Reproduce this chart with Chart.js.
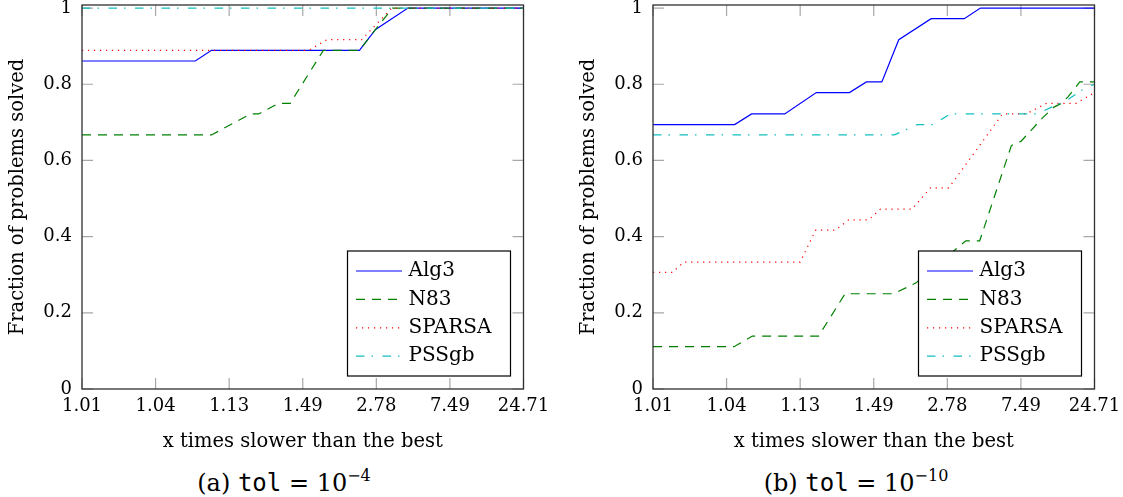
<!DOCTYPE html>
<html>
<head>
<meta charset="utf-8">
<script src="https://cdn.jsdelivr.net/npm/chart.js@4.4.1/dist/chart.umd.min.js"></script>
<style>
  html, body { margin: 0; padding: 0; background: #fff; }
  body { width: 1123px; height: 497px; position: relative; overflow: hidden; font-family: "DejaVu Serif", "Liberation Serif", serif; }
  canvas { position: absolute; top: 0; }
  #chartA { left: 0; }
  #chartB { left: 571px; }
  .caption { position: absolute; top: 470px; font-size: 24px; line-height: 26px; color: #000; white-space: nowrap; transform: translateX(-50%); }
  .caption .tt { font-family: "DejaVu Sans Mono", "Liberation Mono", monospace; }
  .caption sup { font-size: 16px; vertical-align: 0; position: relative; top: -10px; }
</style>
</head>
<body>
<canvas id="chartA" width="552" height="460"></canvas>
<canvas id="chartB" width="552" height="460"></canvas>
<div class="caption" style="left:284px">(a) <span class="tt">tol</span> = 10<sup>−4</sup></div>
<div class="caption" style="left:856px">(b) <span class="tt">tol</span> = 10<sup>−10</sup></div>
<script>
// x positions are tick indices: 0 -> 1.01, 1 -> 1.04, ... 6 -> 24.71
const xTickLabels = ['1.01', '1.04', '1.13', '1.49', '2.78', '7.49', '24.71'];
const yTickValues = [0, 0.2, 0.4, 0.6, 0.8, 1];
const solverNames = ['Alg3', 'N83', 'SPARSA', 'PSSgb'];

// tol = 1e-4
const alg3A = [[0, 0.861], [1.54, 0.861], [1.76, 0.889], [3.77, 0.889], [3.99, 0.944], [4.43, 1], [6, 1]];
const n83A = [[0, 0.667], [1.76, 0.667], [2.29, 0.722], [2.40, 0.722], [2.67, 0.75], [2.83, 0.75],
              [3.28, 0.889], [3.77, 0.889], [3.99, 0.944], [4.22, 1], [6, 1]];
const sparsaA = [[0, 0.889], [3.08, 0.889], [3.33, 0.917], [3.80, 0.917], [4.21, 1], [6, 1]];
const pssgbA = [[0, 1], [6, 1]];

// tol = 1e-10
const alg3B = [[0, 0.694], [1.11, 0.694], [1.34, 0.722], [1.79, 0.722], [2.22, 0.778], [2.67, 0.778],
               [2.90, 0.806], [3.11, 0.806], [3.34, 0.917], [3.78, 0.972], [4.23, 0.972], [4.45, 1], [6, 1]];
const n83B = [[0, 0.111], [1.10, 0.111], [1.35, 0.139], [2.25, 0.139], [2.61, 0.25], [3.27, 0.25],
              [3.57, 0.278], [4.25, 0.389], [4.44, 0.389], [4.87, 0.639], [5.0, 0.65], [5.30, 0.713],
              [5.45, 0.74], [5.55, 0.75], [5.64, 0.767], [5.80, 0.806], [6, 0.806]];
const sparsaB = [[0, 0.306], [0.26, 0.306], [0.42, 0.333], [2.0, 0.333], [2.21, 0.417], [2.48, 0.417],
                 [2.66, 0.444], [2.93, 0.444], [3.09, 0.472], [3.52, 0.472], [3.77, 0.528], [4.02, 0.528],
                 [4.75, 0.722], [5.07, 0.722], [5.35, 0.75], [5.75, 0.75], [6, 0.778]];
const pssgbB = [[0, 0.667], [3.28, 0.667], [3.59, 0.694], [3.81, 0.694], [4.04, 0.722], [5.22, 0.722],
                [5.65, 0.761], [5.83, 0.785], [6, 0.80]];

const lineStyles = [
    { color: '#0000ff', dash: [] },
    { color: '#008000', dash: [9, 7] },
    { color: '#ff0000', dash: [1.2, 4.8] },
    { color: '#10bfbf', dash: [8.5, 7, 1.5, 9.5] }
];

const SERIF = '"DejaVu Serif", "Liberation Serif", serif';
const TICK_LEN = 11;

function makeDatasets(series) {
    return series.map((pts, i) => ({
        label: solverNames[i],
        data: pts.map(([x, y]) => ({ x: x, y: y })),
        borderColor: lineStyles[i].color,
        borderDash: lineStyles[i].dash,
        borderWidth: 1.2,
        pointRadius: 0,
        tension: 0,
        fill: false,
        order: series.length - 1 - i   // later series drawn on top
    }));
}

// inward tick marks on all four sides plus the box around the plot
const framePlugin = {
    id: 'frame',
    beforeDatasetsDraw(chart) {
        const { ctx, chartArea: a, scales } = chart;
        ctx.save();
        ctx.strokeStyle = '#a8a8a8';
        ctx.lineWidth = 1.2;
        ctx.beginPath();
        xTickLabels.forEach((_, i) => {
            const px = scales.x.getPixelForValue(i);
            ctx.moveTo(px, a.bottom);
            ctx.lineTo(px, a.bottom - TICK_LEN);
            ctx.moveTo(px, a.top);
            ctx.lineTo(px, a.top + TICK_LEN);
        });
        yTickValues.forEach(v => {
            const py = scales.y.getPixelForValue(v);
            ctx.moveTo(a.left, py);
            ctx.lineTo(a.left + TICK_LEN, py);
            ctx.moveTo(a.right, py);
            ctx.lineTo(a.right - TICK_LEN, py);
        });
        ctx.stroke();
        ctx.restore();
    },
    afterDatasetsDraw(chart) {
        const { ctx, chartArea: a } = chart;
        ctx.save();
        ctx.strokeStyle = '#303030';
        ctx.lineWidth = 1.3;
        ctx.strokeRect(a.left, a.top, a.right - a.left, a.bottom - a.top);
        ctx.restore();
    }
};

// boxed legend in the lower right corner of the plot
const boxLegendPlugin = {
    id: 'boxLegend',
    afterDraw(chart) {
        const { ctx, chartArea: a } = chart;
        const w = 163, h = 125;
        const right = a.right - 13, bottom = a.bottom - 13;
        const left = right - w, top = bottom - h;
        ctx.save();
        ctx.fillStyle = '#fff';
        ctx.fillRect(left, top, w, h);
        ctx.strokeStyle = '#000';
        ctx.lineWidth = 1.2;
        ctx.strokeRect(left, top, w, h);
        ctx.font = '20px ' + SERIF;
        ctx.textBaseline = 'middle';
        chart.data.datasets.forEach((ds, i) => {
            const cy = top + 20 + i * 28.4;
            ctx.strokeStyle = ds.borderColor;
            ctx.lineWidth = 1.2;
            ctx.setLineDash(ds.borderDash);
            ctx.beginPath();
            ctx.moveTo(left + 8.5, cy);
            ctx.lineTo(left + 54.5, cy);
            ctx.stroke();
            ctx.setLineDash([]);
            ctx.fillStyle = '#000';
            ctx.fillText(ds.label, left + 61, cy);
        });
        ctx.restore();
    }
};

function makeChart(canvasId, series) {
    return new Chart(document.getElementById(canvasId), {
        type: 'line',
        data: { datasets: makeDatasets(series) },
        plugins: [framePlugin, boxLegendPlugin],
        options: {
            responsive: false,
            animation: false,
            devicePixelRatio: 1,
            layout: { padding: { left: 0, right: 28.5, top: 5, bottom: 0 } },
            plugins: { legend: { display: false }, tooltip: { enabled: false } },
            scales: {
                x: {
                    type: 'linear',
                    min: 0,
                    max: 6,
                    grid: { display: false, drawTicks: false },
                    border: { display: false },
                    afterBuildTicks: s => { s.ticks = xTickLabels.map((_, i) => ({ value: i })); },
                    afterFit: s => { s.height = 71; s.paddingLeft = 0; s.paddingRight = 0; },
                    ticks: {
                        color: '#000',
                        padding: 7,
                        maxRotation: 0,
                        autoSkip: false,
                        font: { family: SERIF, size: 18 },
                        callback: v => xTickLabels[v]
                    },
                    title: {
                        display: true,
                        text: 'x times slower than the best',
                        color: '#000',
                        font: { family: SERIF, size: 19.5 },
                        padding: { top: 0, bottom: 6 }
                    }
                },
                y: {
                    min: 0,
                    max: 1.008,
                    grid: { display: false, drawTicks: false },
                    border: { display: false },
                    afterBuildTicks: s => { s.ticks = yTickValues.map(v => ({ value: v })); },
                    afterFit: s => { s.width = 82; s.paddingTop = 0; s.paddingBottom = 0; },
                    ticks: {
                        color: '#000',
                        padding: 10,
                        font: { family: SERIF, size: 18 },
                        callback: v => (v === 0 || v === 1) ? String(v) : v.toFixed(1)
                    },
                    title: {
                        display: true,
                        text: 'Fraction of problems solved',
                        color: '#000',
                        font: { family: SERIF, size: 19.5 },
                        padding: { top: 6, bottom: 0 }
                    }
                }
            }
        }
    });
}

makeChart('chartA', [alg3A, n83A, sparsaA, pssgbA]);
makeChart('chartB', [alg3B, n83B, sparsaB, pssgbB]);
</script>
</body>
</html>
